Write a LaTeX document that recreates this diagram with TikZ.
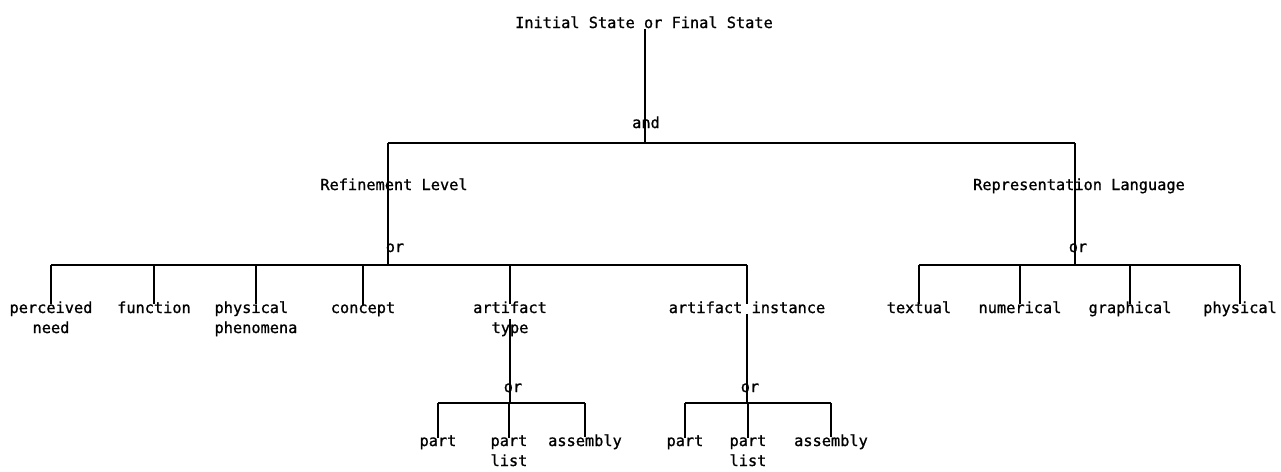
\documentclass[tikz,border=0pt]{standalone}
\usepackage{fontspec}
\newfontfamily\dotfont[FakeBold=1]{DejaVu Sans Mono}
\begin{document}
\begin{tikzpicture}[x=0.02cm,y=-0.02cm,line width=0.8pt,
    lbl/.style={inner sep=0pt,anchor=base,font=\dotfont\fontsize{8.7}{11.4}\selectfont}]
  \useasboundingbox (0,0) rectangle (1281,471);
  % upper levels
  \node[lbl] (init) at (644,28) {Initial State or Final State};
  \node[lbl] (andop) at (646,128) {and};
  \node[lbl] (refl) at (394,190) {Refinement Level};
  \node[lbl] (repl) at (1079,190) {Representation Language};
  \node[lbl] (rlor) at (395,252) {or};
  \node[lbl] (rpor) at (1078,252) {or};
  \coordinate (andj) at (645,143);
  \coordinate (rlj) at (388,143);
  \coordinate (rpj) at (1075,143);
  \coordinate (rlbar) at (388,265);
  \coordinate (rpbar) at (1075,265);
  % refinement levels (base = last line)
  \node[lbl,align=center] (need) at (51,333) {perceived\\need};
  \node[lbl] (func) at (154,313) {function};
  \node[lbl,align=left] (phen) at (256,333) {physical\\phenomena};
  \node[lbl] (concept) at (363,313) {concept};
  \node[lbl,align=center] (arttype) at (510,333) {artifact\\type};
  \node[lbl] (artinst) at (747,313) {artifact instance};
  % languages
  \node[lbl] (textual) at (919,313) {textual};
  \node[lbl] (numer) at (1020,313) {numerical};
  \node[lbl] (graph) at (1130,313) {graphical};
  \node[lbl] (physl) at (1240,313) {physical};
  % artifact sub trees
  \node[lbl] (ator) at (513,392) {or};
  \node[lbl] (aior) at (750,392) {or};
  \coordinate (atbar) at (510,403);
  \coordinate (aibar) at (747,403);
  \node[lbl] (atpart) at (438,446) {part};
  \node[lbl,align=center] (atlist) at (509,466) {part\\list};
  \node[lbl] (atasm) at (585,446) {assembly};
  \node[lbl] (aipart) at (685,446) {part};
  \node[lbl,align=center] (ailist) at (748,466) {part\\list};
  \node[lbl] (aiasm) at (831,446) {assembly};
  % connectors
  \draw (init.south -| andj) -- (andj);
  \draw (rlj) -- (rpj);
  \draw (rlj) -- (rlbar);
  \draw (rpj) -- (rpbar);
  \draw (need.north |- rlbar) -- (artinst.north |- rlbar);
  \draw (textual.north |- rpbar) -- (physl.north |- rpbar);
  \foreach \n in {need,func,phen,concept,arttype,artinst,textual,numer,graph,physl}
    \draw (\n.north |- rlbar) -- ([yshift=-2pt]\n.north);
  \draw (arttype.center -| atbar) -- (atbar);
  \draw (artinst.south) -- (aibar);
  \draw (atpart.north |- atbar) -- (atasm.north |- atbar);
  \draw (aipart.north |- aibar) -- (aiasm.north |- aibar);
  \foreach \n in {atpart,atlist,atasm,aipart,ailist,aiasm}
    \draw (\n.north |- atbar) -- ([yshift=-2pt]\n.north);
\end{tikzpicture}
\end{document}
